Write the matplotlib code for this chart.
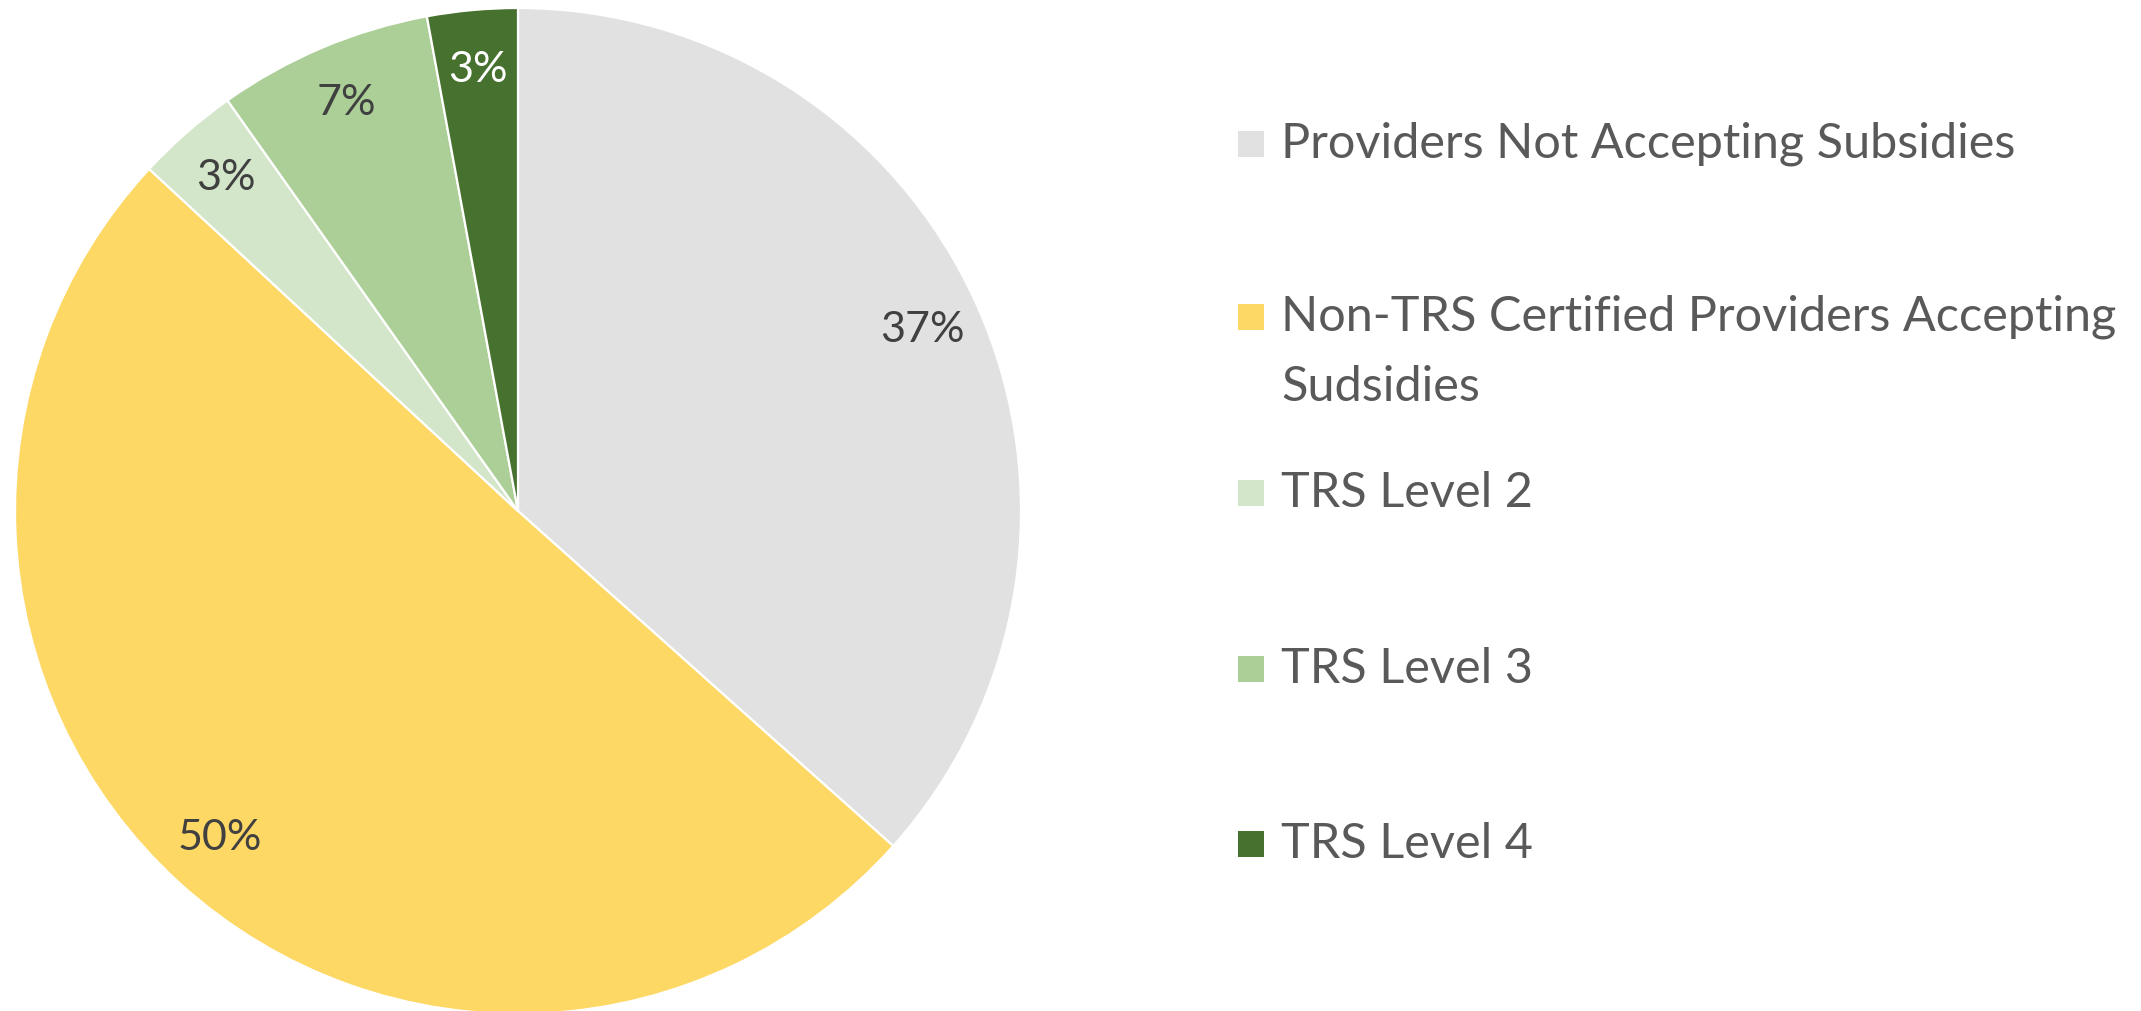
import matplotlib.pyplot as plt
from matplotlib.patches import Rectangle

# slice data (clockwise from 12 o'clock)
categories = ['Providers Not Accepting Subsidies',
              'Non-TRS Certified Providers Accepting\nSudsidies',
              'TRS Level 2', 'TRS Level 3', 'TRS Level 4']
shares = [36.6, 50.3, 3.3, 6.9, 2.9]
colors = ['#E2E1E2', '#FDD865', '#D3E6C9', '#ABCF97', '#47712E']
label_colors = ['#404040', '#404040', '#404040', '#404040', '#FFFFFF']

plt.rcParams['font.family'] = ['Lato', 'DejaVu Sans']

W, H = 2141, 1011
fig = plt.figure(figsize=(W / 100, H / 100), dpi=100)

# pie placement in pixels
cx, cy, r = 518, 511, 503
ax = fig.add_axes([(cx - r) / W, (H - cy - r) / H, 2 * r / W, 2 * r / H])
wedges, texts, autotexts = ax.pie(
    shares, colors=colors, startangle=90, counterclock=False,
    autopct='%.0f%%', pctdistance=0.88, radius=1,
    wedgeprops=dict(edgecolor='white', linewidth=1.6),
    textprops=dict(fontsize=31))
for t, c in zip(autotexts, label_colors):
    t.set_color(c)
ax.set_xlim(-1, 1)
ax.set_ylim(-1, 1)
ax.set_aspect('equal')
ax.axis('off')

# legend, drawn by hand to match Excel's spacing
entry_y = [144, 317, 493, 669, 844]
line_step = 70
for lab, col, y in zip(categories, colors, entry_y):
    fig.patches.append(Rectangle((1238 / W, (H - y - 13) / H), 26 / W, 26 / H,
                                 transform=fig.transFigure, facecolor=col,
                                 edgecolor='none'))
    for k, line in enumerate(lab.split('\n')):
        fig.text(1281 / W, (H - y - k * line_step) / H, line, fontsize=35,
                 color='#595959', va='center', ha='left')

fig.savefig('out.png', dpi=100)
